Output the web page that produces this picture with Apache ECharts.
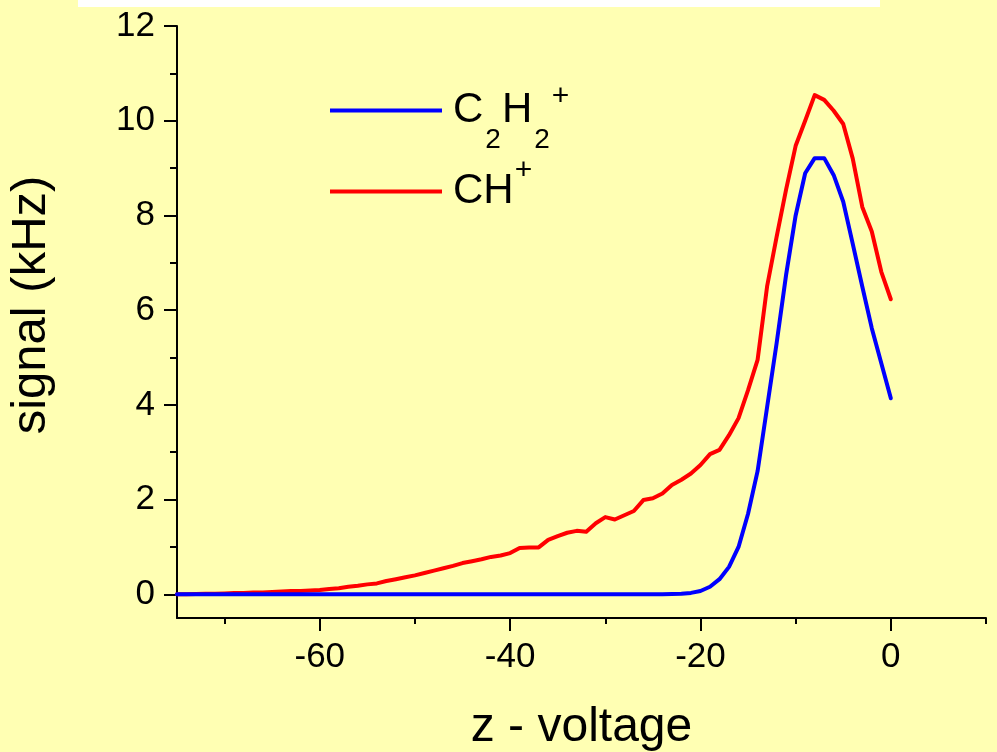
<!DOCTYPE html>
<html>
<head>
<meta charset="utf-8">
<script src="https://cdn.jsdelivr.net/npm/echarts@6.0.0/dist/echarts.min.js"></script>
<style>
html,body{margin:0;padding:0;background:#FFFFB3;}
#chart{width:997px;height:752px;}
</style>
</head>
<body>
<div id="chart"></div>
<script>
// z - voltage values (V)
var voltage = [
  -75,-74,-73,-72,-71,-70,-69,-68,-67,-66,
  -65,-64,-63,-62,-61,-60,-59,-58,-57,-56,
  -55,-54,-53,-52,-51,-50,-49,-48,-47,-46,
  -45,-44,-43,-42,-41,-40,-39,-38,-37,-36,
  -35,-34,-33,-32,-31,-30,-29,-28,-27,-26,
  -25,-24,-23,-22,-21,-20,-19,-18,-17,-16,
  -15,-14,-13,-12,-11,-10,-9,-8,-7,-6,
  -5,-4,-3,-2,-1,0
];
// C2H2+ signal (kHz)
var c2h2 = [
  0,0,0,0,0,0,0,0,0,0,
  0,0,0,0,0,0,0,0,0,0,
  0,0,0,0,0,0,0,0,0,0,
  0,0,0,0,0,0,0,0,0,0,
  0,0,0,0,0,0,0,0,0,0,
  0,0,0.005,0.01,0.03,0.07,0.16,0.32,0.58,1.0,
  1.7,2.6,3.95,5.3,6.75,8.0,8.89,9.21,9.21,8.85,
  8.29,7.4,6.5,5.62,4.88,4.14
];
// CH+ signal (kHz)
var ch = [
  0,0,0.005,0.01,0.01,0.02,0.03,0.03,0.04,0.04,
  0.05,0.06,0.07,0.07,0.08,0.09,0.11,0.13,0.16,0.18,
  0.21,0.23,0.28,0.32,0.36,0.40,0.45,0.50,0.55,0.60,
  0.66,0.70,0.74,0.79,0.82,0.87,0.98,0.99,0.99,1.15,
  1.23,1.30,1.34,1.32,1.50,1.63,1.58,1.67,1.76,1.99,
  2.03,2.13,2.31,2.42,2.55,2.73,2.96,3.05,3.36,3.72,
  4.31,4.95,6.5,7.55,8.55,9.47,10.0,10.54,10.44,10.21,
  9.93,9.2,8.18,7.66,6.81,6.23
];
var xMajorTicks = [-60,-40,-20,0];
var xMinorTicks = [-70,-50,-30,-10,10];
var yMajorTicks = [0,2,4,6,8,10,12];
var yMinorTicks = [1,3,5,7,9,11];
var seriesNames = ['C2H2+','CH+'];
var legendLabels = {
  'C2H2+': '{f|C}{sub|2}{b|H}{sub|2}{sup|+}',
  'CH+': '{f|CH}{sup2|+}'
};

function pairs(xs, ys){ return xs.map(function(x,i){ return [x, ys[i]]; }); }

var FONT = '"Liberation Sans", Arial, sans-serif';
var chart = echarts.init(document.getElementById('chart'));
var axisLineStyle = {color:'#000', width:2};
chart.setOption({
  backgroundColor:'#FFFFB3',
  animation:false,
  textStyle:{fontFamily:FONT},
  graphic:[{type:'rect', shape:{x:78,y:0,width:802,height:7}, style:{fill:'#FFFFFF'}, silent:true}],
  grid:{left:177, right:11, top:26, bottom:134, containLabel:false, outerBoundsMode:'none'},
  legend:{
    data:seriesNames,
    orient:'vertical', left:330, top:73, padding:0, itemGap:0,
    itemWidth:112, itemHeight:4, icon:'rect',
    formatter:function(n){ return legendLabels[n]; },
    textStyle:{
      fontFamily:FONT, color:'#000',
      rich:{
        f:{fontSize:42, lineHeight:75, fontFamily:FONT, color:'#000', padding:[0,0,0,6]},
        b:{fontSize:42, lineHeight:75, fontFamily:FONT, color:'#000'},
        sub:{fontSize:28, lineHeight:12, verticalAlign:'top', fontFamily:FONT, color:'#000', padding:[53,1,0,2]},
        sup:{fontSize:30, lineHeight:12, verticalAlign:'top', fontFamily:FONT, color:'#000', padding:[9,0,0,1]},
        sup2:{fontSize:30, lineHeight:12, verticalAlign:'top', fontFamily:FONT, color:'#000', padding:[2,0,0,1]}
      }
    }
  },
  xAxis:[{
    type:'value', min:-75, max:10, position:'bottom',
    name:'z - voltage', nameLocation:'middle', nameGap:86,
    nameTextStyle:{fontSize:48, fontFamily:FONT, color:'#000'},
    axisLine:{show:true, onZero:false, lineStyle:axisLineStyle},
    axisTick:{show:true, length:13, lineStyle:axisLineStyle, customValues:xMajorTicks},
    axisLabel:{show:true, margin:22, fontSize:35, fontFamily:FONT, color:'#000', customValues:xMajorTicks},
    splitLine:{show:false}
  },{
    type:'value', min:-75, max:10, position:'bottom',
    axisLine:{show:false, onZero:false},
    axisTick:{show:true, length:6, lineStyle:axisLineStyle, customValues:xMinorTicks},
    axisLabel:{show:false},
    splitLine:{show:false}
  }],
  yAxis:[{
    type:'value', min:-0.5, max:12, position:'left',
    name:'signal (kHz)', nameLocation:'middle', nameGap:121, nameRotate:90,
    nameTextStyle:{fontSize:49, fontFamily:FONT, color:'#000', padding:[0,0,0,34]},
    axisLine:{show:true, onZero:false, lineStyle:axisLineStyle},
    axisTick:{show:true, length:13, lineStyle:axisLineStyle, customValues:yMajorTicks},
    axisLabel:{show:true, margin:22, fontSize:35, fontFamily:FONT, color:'#000', customValues:yMajorTicks},
    splitLine:{show:false}
  },{
    type:'value', min:-0.5, max:12, position:'left',
    axisLine:{show:false, onZero:false},
    axisTick:{show:true, length:7, lineStyle:axisLineStyle, customValues:yMinorTicks},
    axisLabel:{show:false},
    splitLine:{show:false}
  }],
  series:[{
    name:'CH+', type:'line', xAxisIndex:0, yAxisIndex:0,
    data:pairs(voltage, ch), showSymbol:false, symbol:'none',
    lineStyle:{color:'#FF0000', width:4, join:'round', cap:'round'},
    itemStyle:{color:'#FF0000'}
  },{
    name:'C2H2+', type:'line', xAxisIndex:0, yAxisIndex:0,
    data:pairs(voltage, c2h2), showSymbol:false, symbol:'none',
    lineStyle:{color:'#0000FF', width:4, join:'round', cap:'round'},
    itemStyle:{color:'#0000FF'}
  }]
});
</script>
</body>
</html>
